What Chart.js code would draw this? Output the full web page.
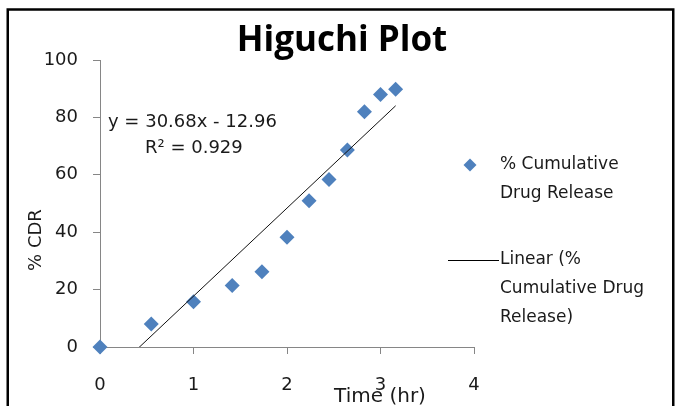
<!DOCTYPE html>
<html>
<head>
<meta charset="utf-8">
<script src="https://cdn.jsdelivr.net/npm/chart.js@4.4.1/dist/chart.umd.min.js"></script>
<style>
  html, body { margin: 0; padding: 0; background: #fff; }
  canvas { display: block; }
</style>
</head>
<body>
<canvas id="c" width="675" height="406"></canvas>
<script>
// Square root of time (hr^0.5) and cumulative drug release (%)
const sqrtTime = [0, 0.548, 1, 1.414, 1.732, 2, 2.236, 2.449, 2.646, 2.828, 3, 3.162];
const cumulativeRelease = [0, 8.0, 15.8, 21.4, 26.2, 38.2, 51.0, 58.4, 68.6, 82.0, 88.0, 89.8];

// Linear trendline coefficients
const fitSlope = 30.68;
const fitIntercept = -12.96;
const fitR2 = 0.929;

// Axis tick values
const xTicks = [0, 1, 2, 3, 4];
const yTicks = [0, 20, 40, 60, 80, 100];

// Series and legend text
const seriesLabel = '% Cumulative Drug Release';
const trendLabel = 'Linear (% Cumulative Drug Release)';
const seriesLegendLines = ['% Cumulative', 'Drug Release'];
const trendLegendLines = ['Linear (%', 'Cumulative Drug', 'Release)'];
const chartTitle = 'Higuchi Plot';
const xTitle = 'Time (hr)';
const yTitle = '% CDR';

const pointColor = '#4F81BD';
const axisColor = '#868686';
const textColor = '#1a1a1a';
const labelFont = '"DejaVu Sans", sans-serif';

const points = sqrtTime.map((t, i) => ({ x: t, y: cumulativeRelease[i] }));
const xEnd = Math.max(...sqrtTime);
const trend = [
  { x: 0, y: fitIntercept },
  { x: xEnd, y: fitSlope * xEnd + fitIntercept }
];

const eqText = 'y = ' + fitSlope.toFixed(2) + 'x - ' + Math.abs(fitIntercept).toFixed(2);
const r2Text = 'R\u00B2 = ' + fitR2.toFixed(3);

// Frame, axis titles, regression equation and legend
const decorations = {
  id: 'decorations',
  afterDraw(chart) {
    const ctx = chart.ctx;
    ctx.save();

    ctx.strokeStyle = '#000';
    ctx.lineWidth = 2.5;
    ctx.strokeRect(7.75, 9.5, 665.5, 440);

    ctx.fillStyle = textColor;
    ctx.font = '18px ' + labelFont;
    ctx.textAlign = 'left';
    ctx.textBaseline = 'middle';
    ctx.fillText(eqText, 108, 122);
    ctx.fillText(r2Text, 145, 148.5);

    // y axis title
    ctx.save();
    ctx.translate(41, 240);
    ctx.rotate(-Math.PI / 2);
    ctx.textAlign = 'center';
    ctx.textBaseline = 'alphabetic';
    ctx.font = '18px ' + labelFont;
    ctx.fillText(yTitle, 0, 0);
    ctx.restore();

    // x axis title
    ctx.textAlign = 'center';
    ctx.textBaseline = 'alphabetic';
    ctx.font = '20px ' + labelFont;
    ctx.fillText(xTitle, 380, 402);

    // legend
    ctx.font = '17px ' + labelFont;
    ctx.textAlign = 'left';
    ctx.textBaseline = 'middle';
    const lx = 500;
    ctx.fillStyle = pointColor;
    ctx.beginPath();
    const dr = 6.5;
    ctx.moveTo(470 - dr, 165);
    ctx.lineTo(470, 165 - dr);
    ctx.lineTo(470 + dr, 165);
    ctx.lineTo(470, 165 + dr);
    ctx.closePath();
    ctx.fill();
    ctx.fillStyle = textColor;
    seriesLegendLines.forEach((s, i) => ctx.fillText(s, lx, 165 + i * 28.5));

    ctx.strokeStyle = '#000';
    ctx.lineWidth = 1;
    ctx.beginPath();
    ctx.moveTo(448, 260.5);
    ctx.lineTo(499, 260.5);
    ctx.stroke();
    trendLegendLines.forEach((s, i) => ctx.fillText(s, lx, 260 + i * 29));

    ctx.restore();
  }
};

new Chart(document.getElementById('c'), {
  type: 'scatter',
  data: {
    datasets: [
      {
        type: 'line',
        label: trendLabel,
        data: trend,
        borderColor: '#111',
        borderWidth: 1,
        pointRadius: 0,
        fill: false,
        order: 0
      },
      {
        label: seriesLabel,
        data: points,
        pointStyle: 'rectRot',
        pointRadius: 7.5,
        pointBackgroundColor: pointColor,
        pointBorderColor: pointColor,
        pointBorderWidth: 0,
        clip: false,
        order: 1
      }
    ]
  },
  options: {
    responsive: false,
    animation: false,
    devicePixelRatio: 1,
    layout: { padding: { left: 9, right: 0, top: 0, bottom: 0 } },
    plugins: {
      legend: { display: false },
      tooltip: { enabled: false },
      title: {
        display: true,
        text: chartTitle,
        color: '#000',
        font: { family: '"Open Sans", sans-serif', size: 35, weight: 'bold', lineHeight: 1.0 },
        padding: { top: 24, bottom: 1 }
      }
    },
    scales: {
      x: {
        type: 'linear',
        min: xTicks[0],
        max: xTicks[xTicks.length - 1],
        afterBuildTicks: s => { s.ticks = xTicks.map(v => ({ value: v })); },
        afterFit: s => { s.height = 59; },
        grid: { display: true, drawOnChartArea: false, drawTicks: true, tickLength: 7, tickColor: axisColor },
        border: { display: true, color: axisColor, width: 1 },
        ticks: { color: textColor, padding: 21, font: { family: labelFont, size: 18 } }
      },
      y: {
        type: 'linear',
        min: yTicks[0],
        max: yTicks[yTicks.length - 1],
        afterBuildTicks: s => { s.ticks = yTicks.map(v => ({ value: v })); },
        afterFit: s => { s.width = 91; },
        grid: { display: true, drawOnChartArea: false, drawTicks: true, tickLength: 7, tickColor: axisColor },
        border: { display: true, color: axisColor, width: 1 },
        ticks: { color: textColor, padding: 15, font: { family: labelFont, size: 18 } }
      },
      legendSpace: {
        type: 'linear',
        position: 'right',
        display: true,
        afterFit: s => { s.width = 201; },
        grid: { display: false },
        border: { display: false },
        ticks: { display: false }
      }
    }
  },
  plugins: [decorations]
});
</script>
</body>
</html>
